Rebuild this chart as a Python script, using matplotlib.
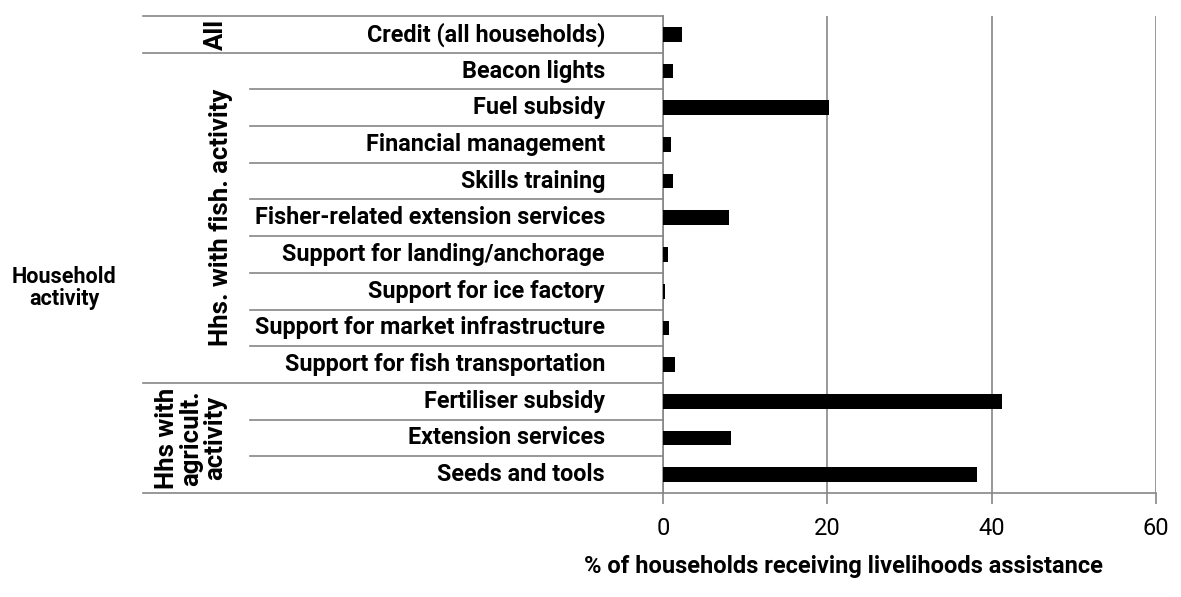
import matplotlib

matplotlib.use("Agg")

import matplotlib.pyplot as plt
import matplotlib.transforms as mtransforms

plt.rcParams["font.family"] = ["Roboto", "DejaVu Sans"]

CATEGORIES = [
    "Credit (all households)",
    "Beacon lights",
    "Fuel subsidy",
    "Financial management",
    "Skills training",
    "Fisher-related extension services",
    "Support for landing/anchorage",
    "Support for ice factory",
    "Support for market infrastructure",
    "Support for fish transportation",
    "Fertiliser subsidy",
    "Extension services",
    "Seeds and tools",
]
VALUES = [2.3, 1.2, 20.2, 1.0, 1.2, 8.0, 0.6, 0.3, 0.7, 1.5, 41.3, 8.3, 38.2]

GROUP_LABELS = ["All", "Hhs. with fish. activity", "Hhs with\nagricult.\nactivity"]
GROUP_ROWS = [(0, 0), (1, 9), (10, 12)]

X_TICKS = [0, 20, 40, 60]
X_LABEL = "% of households receiving livelihoods assistance"
SIDE_LABEL = "Household activity"

GRID_COLOR = "#868686"

W, H = 1181, 597
fig = plt.figure(figsize=(W / 100, H / 100), dpi=100)

left, right, top, bottom = 663, 1156, 16, 493
ax = fig.add_axes([left / W, 1 - bottom / H, (right - left) / W, (bottom - top) / H])

rows = list(range(len(CATEGORIES)))
ax.barh(rows, VALUES, height=0.4, color="black", zorder=3)

ax.set_xlim(0, 60)
ax.set_ylim(len(CATEGORIES) - 0.5, -0.5)
ax.set_xticks(X_TICKS)
ax.set_xticklabels([str(t) for t in X_TICKS], fontsize=17)
ax.tick_params(axis="x", length=8, width=1.2, color=GRID_COLOR, pad=9)
ax.set_yticks([])
ax.grid(axis="x", color=GRID_COLOR, linewidth=1.2, zorder=0)

for side in ["top", "right"]:
    ax.spines[side].set_visible(False)
for side in ["left", "bottom"]:
    ax.spines[side].set_color(GRID_COLOR)
    ax.spines[side].set_linewidth(1.2)

# table lines to the left of the axis
trans = mtransforms.blended_transform_factory(ax.transAxes, ax.transData)
outer_x = (143 - left) / (right - left)
inner_x = (250 - left) / (right - left)
group_edges = {-0.5, 12.5}
for first, last in GROUP_ROWS:
    group_edges.add(last + 0.5)
for i in range(len(CATEGORIES) + 1):
    y = i - 0.5
    x0 = outer_x if y in group_edges else inner_x
    ax.plot([x0, 0], [y, y], color=GRID_COLOR, linewidth=1.2,
            transform=trans, clip_on=False)

label_x = (605 - left) / (right - left)
for row, name in zip(rows, CATEGORIES):
    ax.text(label_x, row, name, transform=trans, ha="right", va="center",
            fontsize=16.8, fontweight="bold")

group_x = [(216 - left) / (right - left), (221 - left) / (right - left),
           (191 - left) / (right - left)]
for gx, label, (first, last) in zip(group_x, GROUP_LABELS, GROUP_ROWS):
    ax.text(gx, (first + last) / 2, label, transform=trans, rotation=90,
            ha="center", va="center", fontsize=18.5, fontweight="bold",
            linespacing=1.0)

fig.text(64 / W, 1 - 288 / H, SIDE_LABEL.replace(" ", "\n"), ha="center",
         va="center", fontsize=15.5, fontweight="bold", linespacing=1.0)
fig.text(843 / W, 1 - 566 / H, X_LABEL, ha="center", va="center",
         fontsize=17, fontweight="bold")

fig.savefig("out.png", dpi=100)
